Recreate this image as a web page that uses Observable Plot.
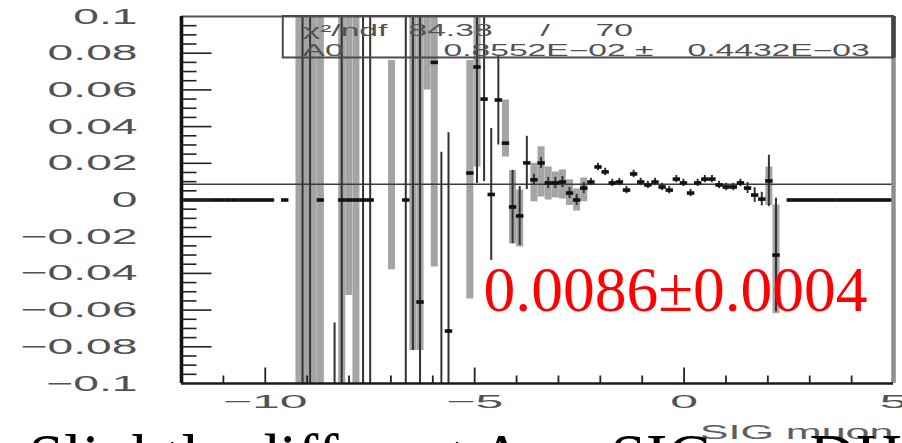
<!DOCTYPE html>
<html>
<head>
<meta charset="utf-8">
<script src="https://cdn.jsdelivr.net/npm/d3@7"></script>
<script src="https://cdn.jsdelivr.net/npm/@observablehq/plot@0.6"></script>
<style>
  html, body { margin: 0; padding: 0; background: #fff; overflow: hidden; }
  svg { display: block; }
</style>
</head>
<body>
<div id="chart"></div>
<script>
// ---------- data ----------
// bin centres of the plotted points (bin width 0.17 on [-12, 5])
const ptX = [-11.915,-11.745,-11.575,-11.405,-11.235,-11.065,-10.895,-10.725,-10.555,-10.385,-10.215,-10.045,-9.875,-9.535,
  -8.685,-8.175,-8.005,-7.835,-7.665,-7.495,-6.645,-6.305,-5.965,-5.625,-5.115,-4.945,-4.775,-4.605,-4.435,-4.265,
  -4.095,-3.925,-3.755,-3.585,-3.415,-3.245,-3.075,-2.905,-2.735,-2.565,-2.395,-2.225,-2.055,-1.885,-1.715,-1.545,
  -1.375,-1.205,-1.035,-0.865,-0.695,-0.525,-0.355,-0.185,-0.015,0.155,0.325,0.495,0.665,0.835,1.005,1.175,1.345,
  1.515,1.685,1.855,2.025,2.195,
  2.535,2.705,2.875,3.045,3.215,3.385,3.555,3.725,3.895,4.065,4.235,4.405,4.575,4.745,4.915];
const ptY = [0,0,0,0,0,0,0,0,0,0,0,0,0,0,
  0,0,0,0,0,0,0,-0.0556,0.075,-0.0714,0.0147,0.0725,0.055,0.003,0.0545,0.031,
  -0.0038,-0.0087,0.0202,0.011,0.0202,0.0093,0.0093,0.0098,0.0038,0.0,0.0065,0.0098,0.018,0.0153,0.0093,0.0098,
  0.0054,0.0142,0.0098,0.0082,0.0098,0.0071,0.0054,0.0114,0.0093,0.0038,0.0093,0.0114,0.0114,0.0082,0.0071,0.0071,0.0093,
  0.0065,0.0027,0.0005,0.0104,-0.030,
  0,0,0,0,0,0,0,0,0,0,0,0,0,0,0];
const ptErr = [0,0,0,0,0,0,0,0,0,0,0,0,0,0,
  0,0.25,0,0,0.25,0.25,0.25,0.2,0,0.108,0,0.0635,0.045,0.036,0.0245,0,
  0.02,0.016,0.0145,0.003,0.003,0.003,0.003,0.003,0.003,0.003,0.003,0.002,0.002,0.002,0.002,0.002,
  0.002,0.002,0.002,0.002,0.002,0.002,0.002,0.002,0.002,0.002,0.002,0.002,0.002,0.002,0.002,0.002,0.002,
  0.003,0.004,0.0037,0.014,0.031,
  0,0,0,0,0,0,0,0,0,0,0,0,0,0,0];

// error bars whose central value lies outside the window
const barX  = [-9.11, -8.93, -8.345, -6.475, -5.795];
const barLo = [-0.2, -0.2, -0.25, -0.082, -0.25];
const barHi = [0.2, 0.2, -0.067, 0.2, 0.026];

// grey error boxes
const bandX  = [-9.195,-9.025,-8.855,-8.685,-8.175,-8.005,-7.835,-6.985,-6.475,-6.305,-6.135,-5.965,-5.115,-4.945,
  -4.265,-4.095,-3.925,-3.585,-3.415,-3.245,-3.075,-2.905,-2.735,-2.565,-2.395,2.025,2.195];
const bandLo = [-0.2,-0.2,-0.2,-0.2,-0.2,-0.052,-0.2,-0.038,-0.082,-0.082,0.06,-0.0365,-0.054,0.018,
  0.0234,-0.024,-0.0256,-0.001,0.0016,0.0,0.0011,0.0005,-0.003,-0.006,-0.001,-0.003,-0.062];
const bandHi = [0.2,0.2,0.2,0.2,0.2,0.2,0.2,0.076,0.2,0.2,0.2,0.2,0.076,0.2,
  0.0545,0.016,0.0054,0.02,0.029,0.018,0.0153,0.0164,0.011,0.006,0.012,0.018,-0.0027];

const fitValue = [0.0086];

// axes
const yMajor = [-0.08,-0.06,-0.04,-0.02,0,0.02,0.04,0.06,0.08];
const yMinor = [-0.095,-0.09,-0.085,-0.075,-0.07,-0.065,-0.055,-0.05,-0.045,-0.035,-0.03,-0.025,-0.015,-0.01,-0.005,
  0.005,0.01,0.015,0.025,0.03,0.035,0.045,0.05,0.055,0.065,0.07,0.075,0.085,0.09,0.095];
const yLabelVals = [0.1,0.08,0.06,0.04,0.02,0,-0.02,-0.04,-0.06,-0.08,-0.1];
const yLabelText = ["0.1","0.08","0.06","0.04","0.02","0","\u22120.02","\u22120.04","\u22120.06","\u22120.08","\u22120.1"];
const xMajor = [-10,-5,0];
const xMinor = [-11,-9,-8,-7,-6,-4,-3,-2,-1,1,2,3,4];
const xLabelVals = [-10,-5,0,5];
const xLabelText = ["\u221210","\u22125","0","5"];

// texts
const statText = ["\u03c7\u00b2/ndf", "84.38", "/", "70", "A0", "0.8552E\u221202 \u00b1", "0.4432E\u221203"];
const resultText = "0.0086\u00b10.0004";
const xTitle = "SIG muon";
const footText = "Slightly different A vs SIG on DH";

// ---------- layout ----------
const statPos = [[121,19],[227,19],[359,19],[414,19],[121,39],[262,39],[506,39]]; // px offsets from frame top-left
const statBox = {x1: -9.57, x2: 5, y1: 0.0774, y2: 0.1};

const pts = ptX.map((x, i) => ({x, y: ptY[i], e: ptErr[i]}));
const bars = barX.map((x, i) => ({x, lo: barLo[i], hi: barHi[i]}));
const bands = bandX.map((x, i) => ({x, lo: bandLo[i], hi: bandHi[i]}));

const hTick = len => ({draw(ctx) { ctx.moveTo(0, 0); ctx.lineTo(len, 0); }});
const vTick = len => ({draw(ctx) { ctx.moveTo(0, 0); ctx.lineTo(0, -len); }});
const dash = w => ({draw(ctx) { ctx.moveTo(-w / 2, 0); ctx.lineTo(w / 2, 0); }});

const SANS = "'Liberation Sans', Arial, sans-serif";
const SERIF = "'Liberation Serif', 'Times New Roman', serif";
const LABEL = "#525252";

const statMarks = statText.map((t, i) =>
  Plot.text([t], {text: d => d, frameAnchor: "top-left", dx: statPos[i][0], dy: statPos[i][1], textAnchor: "start",
    lineAnchor: "bottom", fontFamily: SANS, fontSize: 16, fill: LABEL}));

const svg = Plot.plot({
  width: 902,
  height: 443,
  marginLeft: 181,
  marginRight: 9,
  marginTop: 16,
  marginBottom: 60,
  x: {domain: [-12, 5], axis: null},
  y: {domain: [-0.1, 0.1], axis: null},
  marks: [
    // grey error boxes
    Plot.ruleX(bands, {x: "x", y1: "lo", y2: "hi", stroke: "#a4a4a4", strokeWidth: 7, clip: true}),
    // fit line
    Plot.ruleY(fitValue, {stroke: "#3c3c3c", strokeWidth: 1.6}),
    // black error bars
    Plot.ruleX(bars, {x: "x", y1: "lo", y2: "hi", stroke: "#333", strokeWidth: 2, clip: true}),
    Plot.ruleX(pts.filter(d => d.e > 0), {x: "x", y1: d => d.y - d.e, y2: d => d.y + d.e, stroke: "#333", strokeWidth: 2, clip: true}),
    // point markers
    Plot.dot(pts, {x: "x", y: "y", symbol: dash(7.4), stroke: "#111", strokeWidth: 3.6, fill: "none", clip: true}),
    // frame
    Plot.ruleY([0.1], {stroke: "#555", strokeWidth: 2}),
    Plot.ruleX([5], {stroke: "#8e8e8e", strokeWidth: 4.5}),
    Plot.ruleY([-0.1], {stroke: "#1a1a1a", strokeWidth: 2.6}),
    Plot.ruleX([-12], {stroke: "#111", strokeWidth: 3.6}),
    // inward ticks
    Plot.dot(yMajor, {y: d => d, frameAnchor: "left", symbol: hTick(30), stroke: "#222", strokeWidth: 1.6, fill: "none"}),
    Plot.dot(yMinor, {y: d => d, frameAnchor: "left", symbol: hTick(15), stroke: "#222", strokeWidth: 1.6, fill: "none"}),
    Plot.dot(xMajor, {x: d => d, frameAnchor: "bottom", symbol: vTick(16), stroke: "#222", strokeWidth: 1.8, fill: "none"}),
    Plot.dot(xMinor, {x: d => d, frameAnchor: "bottom", symbol: vTick(8), stroke: "#222", strokeWidth: 1.8, fill: "none"}),
    // tick labels
    Plot.text(yLabelVals, {y: d => d, text: (d, i) => yLabelText[i], frameAnchor: "left", dx: -44, textAnchor: "end",
      lineAnchor: "middle", fontFamily: SANS, fontSize: 22, fill: LABEL}),
    Plot.text(xLabelVals, {x: d => d, text: (d, i) => xLabelText[i], frameAnchor: "bottom", dy: 19, textAnchor: "middle",
      lineAnchor: "middle", fontFamily: SANS, fontSize: 18.5, fill: LABEL}),
    // statistics box
    Plot.rect([statBox], {x1: "x1", x2: "x2", y1: "y1", y2: "y2", fill: "none", stroke: "#4a4a4a", strokeWidth: 2}),
    Plot.ruleX([5], {y1: statBox.y1, y2: statBox.y2, stroke: "#444", strokeWidth: 4.5}),
    ...statMarks,
    // axis title
    Plot.text([xTitle], {text: d => d, frameAnchor: "bottom-right", dy: 55, textAnchor: "end", lineAnchor: "bottom",
      fontFamily: SANS, fontSize: 20.5, fill: "#5e5e5e"}),
    // result annotation
    Plot.text([resultText], {text: d => d, frameAnchor: "top-left", dx: 302, dy: 294, textAnchor: "start",
      lineAnchor: "bottom", fontFamily: SERIF, fontSize: 63.5, fill: "#ff0000"}),
    // slide text (cut off at the bottom)
    Plot.text([footText], {text: d => d, frameAnchor: "bottom-left", dx: -153, dy: 94, textAnchor: "start",
      lineAnchor: "bottom", fontFamily: SERIF, fontSize: 64, fill: "#000"})
  ]
});

document.getElementById("chart").append(svg);

// per-size font family and horizontal stretch of the PAW lettering
const family = {"22": SANS, "18.5": SANS, "16": SANS, "20.5": SANS, "63.5": SERIF, "64": SERIF};
const stretch = {"22": 2.1, "18.5": 2.7, "16": 2.1, "20.5": 2.1};
d3.select(svg).selectAll("g[font-size]").each(function () {
  const key = this.getAttribute("font-size");
  const fam = family[key], s = stretch[key];
  d3.select(this).selectAll("text").each(function () {
    if (fam) { this.style.fontFamily = fam; this.style.fontSize = key + "px"; }
  });
  if (!s) return;
  d3.select(this).selectAll("text").each(function () {
    const w = this.getComputedTextLength();
    this.setAttribute("textLength", (w * s).toFixed(1));
    this.setAttribute("lengthAdjust", "spacingAndGlyphs");
  });
});
</script>
</body>
</html>
